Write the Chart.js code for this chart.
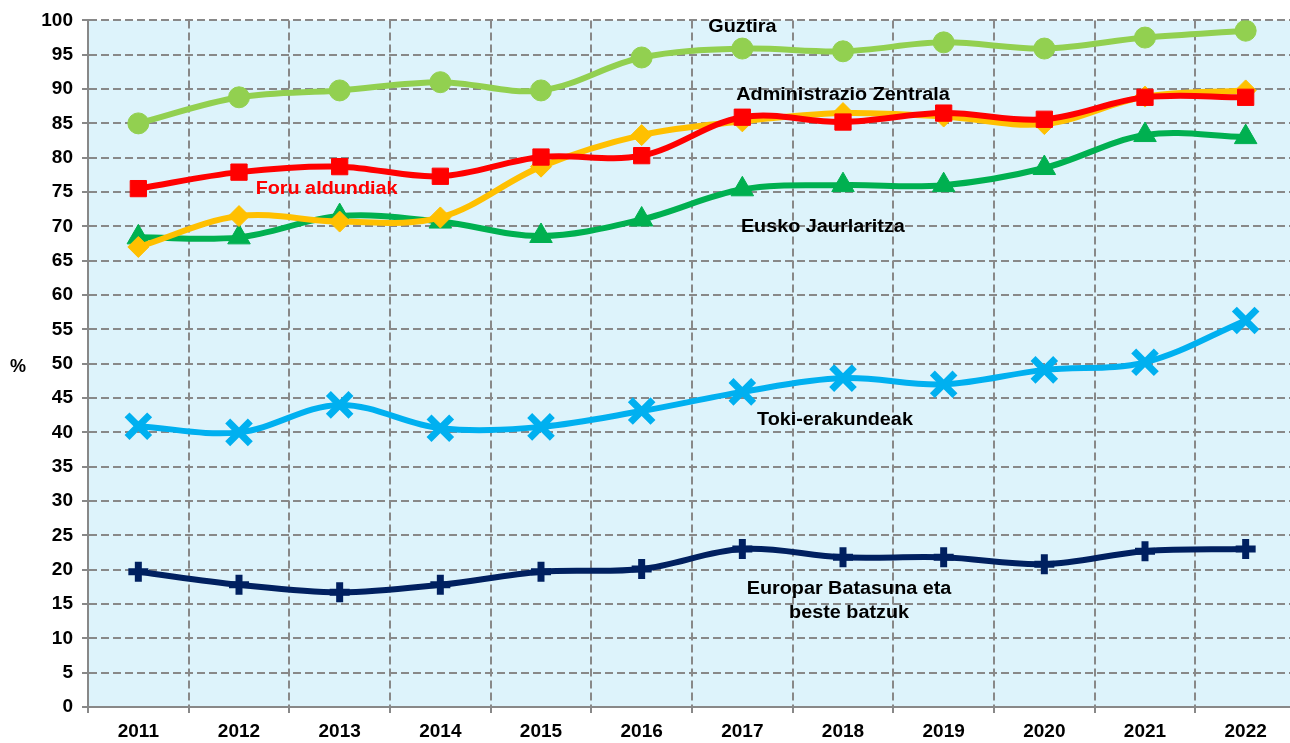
<!DOCTYPE html>
<html>
<head>
<meta charset="utf-8">
<script src="https://cdn.jsdelivr.net/npm/chart.js@4/dist/chart.umd.min.js"></script>
<style>
    html, body { margin: 0; padding: 0; background: #ffffff; overflow: hidden; }
    #wrap { width: 1290px; height: 743px; overflow: hidden; }
</style>
</head>
<body>
<div id="wrap"><canvas id="chart" width="1296" height="743"></canvas></div>
<script>
// Data
const years = ['2011', '2012', '2013', '2014', '2015', '2016', '2017', '2018', '2019', '2020', '2021', '2022'];
const guztira = [85.0, 88.8, 89.8, 91.0, 89.8, 94.6, 95.9, 95.5, 96.8, 95.9, 97.5, 98.5];
const foruAldundiak = [75.5, 77.9, 78.7, 77.3, 80.1, 80.3, 85.9, 85.2, 86.5, 85.6, 88.8, 88.8];
const adminZentrala = [67.0, 71.5, 70.7, 71.3, 78.7, 83.3, 85.3, 86.5, 86.0, 84.9, 88.9, 89.8];
const euskoJaurlaritza = [68.4, 68.4, 71.5, 70.7, 68.6, 71.0, 75.4, 76.0, 76.0, 78.5, 83.3, 83.0];
const tokiErakundeak = [40.9, 40.0, 44.0, 40.6, 40.8, 43.1, 45.9, 47.9, 47.0, 49.1, 50.2, 56.3];
const europarBatasuna = [19.7, 17.8, 16.7, 17.8, 19.7, 20.1, 23.0, 21.8, 21.8, 20.8, 22.7, 23.0];

const FONT = '"Liberation Sans", Arial, sans-serif';

// Series labels written inside the plot (x = category index, y = value)
const seriesLabels = [
    { lines: ['Guztira'], x: 6.0, y: 99.0, color: '#000000' },
    { lines: ['Administrazio Zentrala'], x: 7.0, y: 89.1, color: '#000000' },
    { lines: ['Foru aldundiak'], x: 1.87, y: 75.5, color: '#FF0000' },
    { lines: ['Eusko Jaurlaritza'], x: 6.8, y: 69.9, color: '#000000' },
    { lines: ['Toki-erakundeak'], x: 6.92, y: 41.8, color: '#000000' },
    { lines: ['Europar Batasuna eta', 'beste batzuk'], x: 7.06, y: 17.2, color: '#000000' }
];

// Light blue plot background
const plotBackground = {
    id: 'plotBackground',
    beforeDraw(chart) {
        const { ctx, chartArea } = chart;
        ctx.save();
        ctx.fillStyle = '#DDF3FB';
        ctx.fillRect(chartArea.left, chartArea.top, chartArea.right - chartArea.left, chartArea.bottom - chartArea.top);
        ctx.restore();
    }
};

// Text labels next to the lines, plus the "%" unit
const textLabels = {
    id: 'textLabels',
    afterDraw(chart) {
        const { ctx } = chart;
        const xs = chart.scales.x, ys = chart.scales.y;
        ctx.save();
        ctx.font = 'bold 18px ' + FONT;
        ctx.textAlign = 'center';
        ctx.textBaseline = 'middle';
        seriesLabels.forEach(l => {
            const px = xs.getPixelForValue(l.x);
            let py = ys.getPixelForValue(l.y);
            ctx.fillStyle = l.color;
            l.lines.forEach(line => {
                ctx.save();
                ctx.translate(px, py);
                ctx.scale(1.1, 1);
                ctx.fillText(line, 0, 0);
                ctx.restore();
                py += 24;
            });
        });
        ctx.fillStyle = '#000000';
        ctx.fillText('%', 18, ys.getPixelForValue(49.5));
        ctx.restore();
    }
};

function series(label, data, color, style, radius, extra) {
    return Object.assign({
        label: label,
        data: data,
        borderColor: color,
        backgroundColor: color,
        borderWidth: 6,
        tension: 0.35,
        pointStyle: style,
        pointRadius: radius,
        pointBackgroundColor: color,
        pointBorderColor: color,
        pointBorderWidth: 1
    }, extra || {});
}

const ctx = document.getElementById('chart').getContext('2d');
new Chart(ctx, {
    type: 'line',
    data: {
        labels: years,
        datasets: [
            series('Europar Batasuna eta beste batzuk', europarBatasuna, '#002060', 'cross', 10, { pointBorderWidth: 7 }),
            series('Toki-erakundeak', tokiErakundeak, '#00B0F0', 'crossRot', 16, { pointBorderWidth: 7 }),
            series('Guztira', guztira, '#92D050', 'circle', 10.5),
            series('Foru aldundiak', foruAldundiak, '#FF0000', 'rect', 11.5),
            series('Administrazio Zentrala', adminZentrala, '#FFC000', 'rectRot', 10.5),
            series('Eusko Jaurlaritza', euskoJaurlaritza, '#00B050', 'triangle', 13)
        ]
    },
    options: {
        responsive: false,
        animation: false,
        devicePixelRatio: 1,
        layout: { autoPadding: false, padding: { top: 20, right: 0, left: 0, bottom: 0 } },
        plugins: {
            legend: { display: false },
            tooltip: { enabled: false }
        },
        scales: {
            x: {
                offset: true,
                grid: { offset: true, color: '#888888', lineWidth: 2, tickLength: 6 },
                border: { display: true, color: '#888888', width: 2, dash: [8, 4] },
                ticks: { color: '#000000', font: { family: FONT, size: 19, weight: 'bold' }, padding: 7, maxRotation: 0 },
                afterFit(scale) { scale.height = 36; }
            },
            y: {
                min: 0,
                max: 100,
                grid: { color: '#888888', lineWidth: 2, tickLength: 6 },
                border: { display: true, color: '#888888', width: 2, dash: [8, 4] },
                ticks: { stepSize: 5, color: '#000000', font: { family: FONT, size: 19, weight: 'bold' }, padding: 9 },
                afterFit(scale) { scale.width = 88; }
            }
        }
    },
    plugins: [plotBackground, textLabels]
});
</script>
</body>
</html>
